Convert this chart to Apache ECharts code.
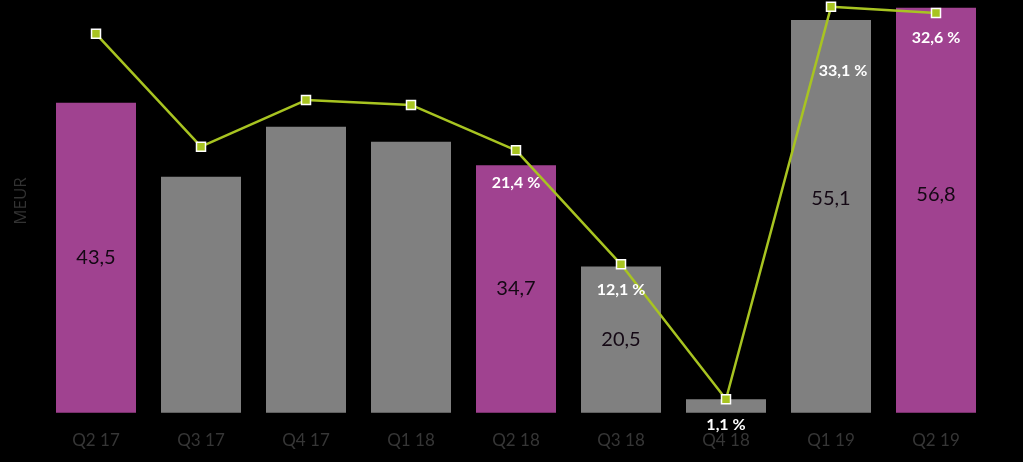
<!DOCTYPE html>
<html>
<head>
<meta charset="utf-8">
<script src="https://cdn.jsdelivr.net/npm/echarts@6/dist/echarts.min.js"></script>
<style>
  html, body { margin: 0; padding: 0; background: #000; }
  #main { width: 1023px; height: 462px; }
</style>
</head>
<body>
<div id="main"></div>
<script>
var quarters = ['Q2 17', 'Q3 17', 'Q4 17', 'Q1 18', 'Q2 18', 'Q3 18', 'Q4 18', 'Q1 19', 'Q2 19'];
var meur = [43.5, 33.1, 40.1, 38.0, 34.7, 20.5, 1.9, 55.1, 56.8];
var margin = [30.9, 21.7, 25.5, 25.1, 21.4, 12.1, 1.1, 33.1, 32.6];
// which bars are highlighted purple / carry a value label
var highlight = [true, false, false, false, true, false, false, false, true];
var barLabelShown = [true, false, false, false, true, true, false, true, true];
var pctLabelShown = [false, false, false, false, true, true, true, true, true];

var purple = '#a04290';
var grey = '#808080';
var green = '#a8c421';

function fmt(v) { return String(v.toFixed(1)).replace('.', ','); }

// small nudges so labels sit where the original put them
var barLabelOffset = { 7: [0, -18], 8: [0, -16] };
var pctLabelOffset = { 4: [0, 7], 7: [12, 39] };

var barData = meur.map(function (v, i) {
  var lbl = { show: barLabelShown[i] };
  if (barLabelOffset[i]) lbl.offset = barLabelOffset[i];
  return {
    value: v,
    itemStyle: { color: highlight[i] ? purple : grey },
    label: lbl
  };
});

var lineData = margin.map(function (v, i) {
  var lbl = { show: pctLabelShown[i] };
  if (pctLabelOffset[i]) lbl.offset = pctLabelOffset[i];
  return { value: v, label: lbl };
});

var chartDom = document.getElementById('main');
var myChart = echarts.init(chartDom);
var option;

option = {
  backgroundColor: '#000',
  animation: false,
  grid: { left: 43.5, right: 34.5, top: 0, bottom: 49.3 },
  graphic: [{
    type: 'text',
    x: 21,
    y: 201,
    rotation: Math.PI / 2,
    style: {
      text: 'MEUR', fill: '#333', font: '17px "Open Sans"',
      textAlign: 'center', textVerticalAlign: 'middle'
    }
  }],
  xAxis: {
    type: 'category',
    data: quarters,
    axisLine: { show: false },
    axisTick: { show: false },
    axisLabel: { color: '#363636', fontSize: 17, fontFamily: 'Lato', margin: 19 }
  },
  yAxis: [
    { type: 'value', min: 0, max: 57.9, show: false, splitLine: { show: false } },
    { type: 'value', min: 0, max: 33.66, show: false, splitLine: { show: false } }
  ],
  series: [
    {
      name: 'MEUR',
      type: 'bar',
      data: barData,
      barWidth: 80,
      label: {
        position: 'inside',
        color: '#140814',
        fontSize: 20,
        fontFamily: 'Lato',
        formatter: function (p) { return fmt(p.value); }
      }
    },
    {
      name: 'Marge',
      type: 'line',
      yAxisIndex: 1,
      data: lineData,
      symbol: 'rect',
      symbolSize: 9,
      lineStyle: { color: green, width: 2.5 },
      itemStyle: { color: green, borderColor: '#fff', borderWidth: 1.5 },
      label: {
        position: 'bottom',
        distance: 12,
        color: '#fff',
        fontSize: 16,
        fontWeight: 'bold',
        fontFamily: 'Lato',
        formatter: function (p) { return fmt(p.value) + ' %'; }
      },
      z: 5
    }
  ]
};

option && myChart.setOption(option);
</script>
</body>
</html>
